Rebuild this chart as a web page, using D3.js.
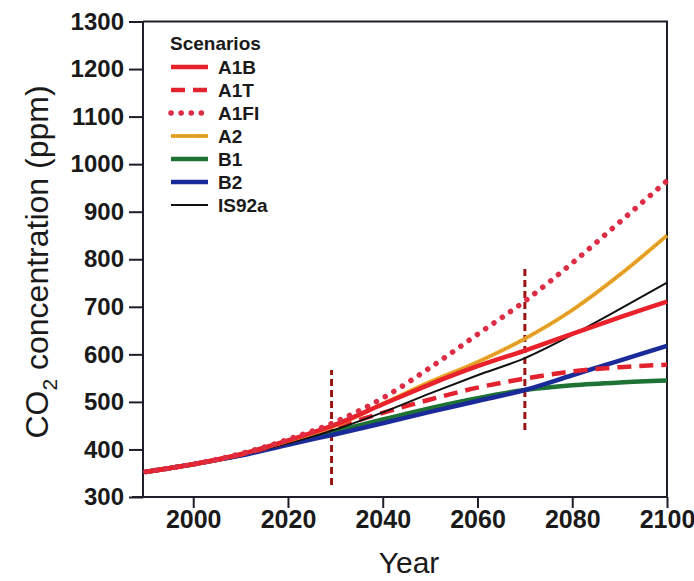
<!DOCTYPE html>
<html>
<head>
<meta charset="utf-8">
<script src="https://cdn.jsdelivr.net/npm/d3@7"></script>
<style>
  html, body { margin: 0; padding: 0; background: #fff; }
  svg { display: block; }
  text { font-family: "Liberation Sans", Arial, Helvetica, sans-serif; fill: #1a1a1a; }
</style>
</head>
<body>
<svg id="chart" width="694" height="581"></svg>
<script>
// ---- Data ----
const years = [1990, 2000, 2010, 2020, 2030, 2040, 2050, 2060, 2070, 2080, 2090, 2100];
const A1B   = [353, 369, 390, 419, 452, 495, 537, 575, 608, 643, 678, 711];
const A1T   = [353, 369, 389, 416, 447, 477, 505, 530, 549, 564, 573, 578];
const A1FI  = [353, 369, 391, 421, 458, 508, 572, 642, 712, 792, 878, 965];
const A2    = [353, 369, 390, 418, 450, 496, 542, 584, 633, 693, 767, 850];
const B1    = [353, 369, 388, 413, 438, 463, 487, 508, 525, 535, 541, 545];
const B2    = [353, 369, 387, 410, 432, 455, 479, 502, 525, 556, 587, 618];
const IS92a = [353, 369, 389, 413, 442, 478, 518, 556, 592, 641, 695, 751];

const seriesNames = ["A1B", "A1T", "A1FI", "A2", "B1", "B2", "IS92a"];
const seriesValues = [A1B, A1T, A1FI, A2, B1, B2, IS92a];

const xTicks = [2000, 2020, 2040, 2060, 2080, 2100];
const yTicks = [300, 400, 500, 600, 700, 800, 900, 1000, 1100, 1200, 1300];

// vertical marker lines: [year, lowValue, highValue]
const markerYears = [2029.2, 2070];
const markerLow   = [325, 441];
const markerHigh  = [567, 788];

// ---- Styles ----
const styles = {
  "A1B":   { color: "#e8212b", width: 4.5, dash: null },
  "A1T":   { color: "#e3222f", width: 4.5, dash: "14,8" },
  "A1FI":  { color: "#dc2d45", width: 5.5, dash: "0.1,10", cap: "round" },
  "A2":    { color: "#eeaa2c", width: 4, dash: null, texture: "#b9731c" },
  "B1":    { color: "#1d7234", width: 4.5, dash: null },
  "B2":    { color: "#1a2a98", width: 4.5, dash: null },
  "IS92a": { color: "#111111", width: 2, dash: null }
};

const svg = d3.select("#chart");
const pLeft = 143, pRight = 667, pTop = 21.5, pBottom = 497;

const x = d3.scaleLinear().domain([1989.4, 2100]).range([pLeft, pRight]);
const y = d3.scaleLinear().domain([300, 1300]).range([pBottom, pTop]);

const axisColor = "#1e1e2a";

// frame (top & right)
svg.append("path")
  .attr("d", `M${pLeft},${pTop}H${pRight}V${pBottom}`)
  .attr("fill", "none").attr("stroke", axisColor).attr("stroke-width", 2);

// x axis
const gx = svg.append("g").attr("transform", `translate(0,${pBottom})`)
  .call(d3.axisBottom(x).tickValues(xTicks).tickFormat(d3.format("d")).tickSize(11).tickPadding(2));
gx.select(".domain").remove();
gx.append("line").attr("x1", 132).attr("x2", pRight).attr("y1", 0).attr("y2", 0)
  .attr("stroke", axisColor).attr("stroke-width", 2);
gx.selectAll(".tick line").attr("stroke", axisColor).attr("stroke-width", 2);
gx.selectAll(".tick text").attr("font-size", 25).attr("font-weight", "bold")
  .attr("fill", "#1a1a1a").style("font-family", "'Liberation Sans', Arial, sans-serif");

// y axis
const gy = svg.append("g").attr("transform", `translate(${pLeft},0)`)
  .call(d3.axisLeft(y).tickValues(yTicks).tickFormat(d3.format("d")).tickSize(14).tickPadding(5));
gy.select(".domain").remove();
gy.append("line").attr("x1", 0).attr("x2", 0).attr("y1", pTop).attr("y2", pBottom)
  .attr("stroke", axisColor).attr("stroke-width", 2);
gy.selectAll(".tick line").attr("stroke", axisColor).attr("stroke-width", 2);
gy.selectAll(".tick text").attr("font-size", 24).attr("font-weight", "bold")
  .attr("fill", "#1a1a1a").style("font-family", "'Liberation Sans', Arial, sans-serif");

// axis titles
svg.append("text").attr("x", 409).attr("y", 573).attr("text-anchor", "middle")
  .attr("font-size", 30).text("Year");

const yt = svg.append("text")
  .attr("transform", "translate(48,262) rotate(-90)")
  .attr("text-anchor", "middle").attr("font-size", 32);
yt.append("tspan").text("CO");
yt.append("tspan").attr("font-size", 21).attr("dy", 9).text("2");
yt.append("tspan").attr("dy", -9).text(" concentration (ppm)");

// marker lines
markerYears.forEach((yr, i) => {
  svg.append("line")
    .attr("x1", x(yr)).attr("x2", x(yr))
    .attr("y1", y(markerLow[i])).attr("y2", y(markerHigh[i]))
    .attr("stroke", "#9b1414").attr("stroke-width", 3).attr("stroke-dasharray", "7,4");
});

// series lines
const line = d3.line().x(d => x(d[0])).y(d => y(d[1])).curve(d3.curveMonotoneX);
const drawOrder = ["B1", "B2", "A1T", "IS92a", "A2", "A1B", "A1FI"];
drawOrder.forEach(name => {
  const vals = seriesValues[seriesNames.indexOf(name)];
  const pts = years.map((yr, i) => [yr, vals[i]]);
  const s = styles[name];
  svg.append("path").datum(pts).attr("d", line)
    .attr("fill", "none").attr("stroke", s.color).attr("stroke-width", s.width)
    .attr("stroke-dasharray", s.dash).attr("stroke-linecap", s.cap || "butt")
    .attr("stroke-linejoin", "round");
  if (s.texture) {
    svg.append("path").datum(pts).attr("d", line)
      .attr("fill", "none").attr("stroke", s.texture).attr("stroke-width", 1.4)
      .attr("stroke-dasharray", "1.2,1.6").attr("opacity", 0.8);
  }
});

// legend
const lg = svg.append("g");
lg.append("text").attr("x", 170).attr("y", 50).attr("font-size", 19).attr("font-weight", "bold")
  .text("Scenarios");
seriesNames.forEach((name, i) => {
  const yy = 67 + i * 23;
  const s = styles[name];
  lg.append("line").attr("x1", 171).attr("x2", 208).attr("y1", yy).attr("y2", yy)
    .attr("stroke", s.color).attr("stroke-width", s.width)
    .attr("stroke-dasharray", s.dash).attr("stroke-linecap", s.cap || "butt");
  if (s.texture) {
    lg.append("line").attr("x1", 171).attr("x2", 208).attr("y1", yy).attr("y2", yy)
      .attr("stroke", s.texture).attr("stroke-width", 1.4).attr("stroke-dasharray", "1.2,1.6").attr("opacity", 0.8);
  }
  lg.append("text").attr("x", 218).attr("y", yy + 7).attr("font-size", 19).attr("font-weight", "bold")
    .text(name);
});
</script>
</body>
</html>
